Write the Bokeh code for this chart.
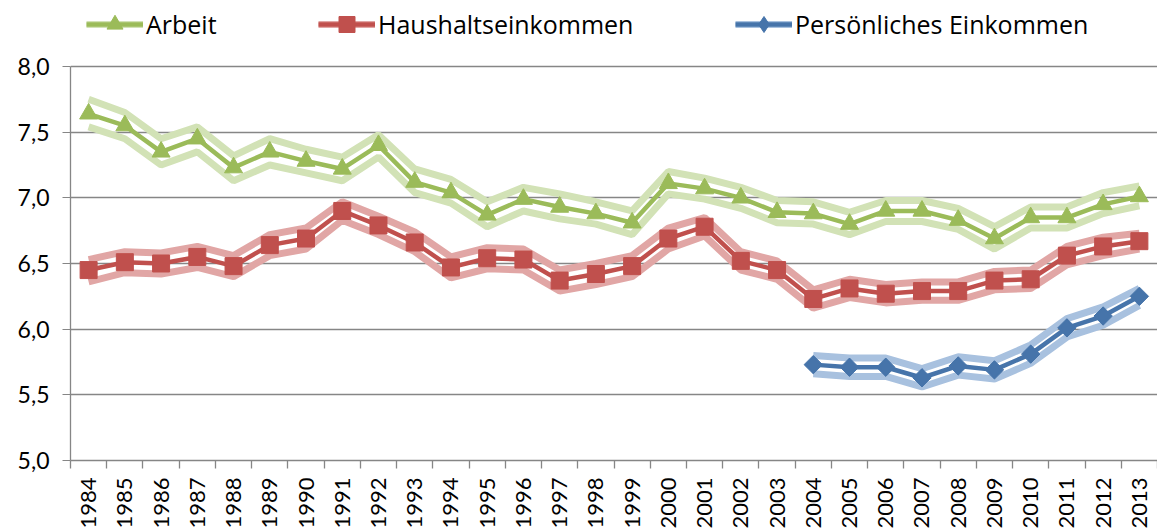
import math
from bokeh.plotting import figure
from bokeh.models import Range1d, FixedTicker, Legend, LegendItem, CustomJSTickFormatter
from bokeh.embed import file_html
from bokeh.resources import INLINE

years = list(range(1984, 2014))
arbeit = [7.64, 7.55, 7.35, 7.45, 7.23, 7.35, 7.28, 7.22, 7.40, 7.12, 7.04, 6.87, 6.99, 6.93, 6.88,
          6.81, 7.11, 7.07, 7.00, 6.89, 6.88, 6.80, 6.90, 6.90, 6.83, 6.69, 6.85, 6.85, 6.95, 7.01]
arbeit_hi = [7.75, 7.65, 7.45, 7.54, 7.32, 7.45, 7.37, 7.31, 7.48, 7.22, 7.14, 6.97, 7.08, 7.03, 6.97,
             6.90, 7.20, 7.15, 7.08, 6.98, 6.97, 6.89, 6.98, 6.98, 6.92, 6.78, 6.93, 6.93, 7.04, 7.09]
arbeit_lo = [7.54, 7.45, 7.25, 7.35, 7.13, 7.25, 7.19, 7.13, 7.31, 7.04, 6.96, 6.78, 6.90, 6.84, 6.80,
             6.72, 7.03, 6.99, 6.92, 6.81, 6.80, 6.72, 6.82, 6.82, 6.76, 6.61, 6.77, 6.77, 6.88, 6.94]

haushalt = [6.45, 6.51, 6.50, 6.55, 6.48, 6.64, 6.69, 6.90, 6.79, 6.66, 6.47, 6.54, 6.53, 6.37, 6.42,
            6.48, 6.69, 6.78, 6.52, 6.45, 6.23, 6.31, 6.27, 6.29, 6.29, 6.37, 6.38, 6.56, 6.63, 6.67]
haushalt_hi = [6.53, 6.59, 6.58, 6.63, 6.56, 6.72, 6.77, 6.97, 6.86, 6.74, 6.55, 6.62, 6.61, 6.45, 6.50,
               6.56, 6.77, 6.85, 6.59, 6.52, 6.30, 6.38, 6.34, 6.36, 6.36, 6.44, 6.45, 6.63, 6.70, 6.73]
haushalt_lo = [6.36, 6.43, 6.42, 6.47, 6.40, 6.56, 6.61, 6.83, 6.72, 6.59, 6.39, 6.46, 6.45, 6.29, 6.34,
               6.40, 6.61, 6.71, 6.45, 6.38, 6.16, 6.24, 6.20, 6.22, 6.22, 6.30, 6.31, 6.49, 6.56, 6.61]

pers_years = list(range(2004, 2014))
persoenlich = [5.73, 5.71, 5.71, 5.63, 5.72, 5.69, 5.81, 6.01, 6.10, 6.25]
persoenlich_hi = [5.80, 5.78, 5.78, 5.70, 5.79, 5.76, 5.88, 6.08, 6.17, 6.31]
persoenlich_lo = [5.66, 5.64, 5.64, 5.56, 5.65, 5.62, 5.74, 5.94, 6.03, 6.18]

y_ticks = [5.0, 5.5, 6.0, 6.5, 7.0, 7.5, 8.0]
labels = ["Arbeit", "Haushaltseinkommen", "Persönliches Einkommen"]

FONT = "Lato"
LEG_FONT = "Open Sans"
GRID = "#868686"

# frame runs to the top of the figure so the legend can sit above the 8,0 line
p = figure(width=1157, height=531, output_backend="svg", toolbar_location=None,
           x_range=Range1d(1983.5, 2013.5), y_range=Range1d(5.0, 8.5025),
           min_border_left=70, min_border_right=0, min_border_top=0, min_border_bottom=71)
p.outline_line_color = None
p.background_fill_color = "white"
p.border_fill_color = "white"
p.xgrid.visible = False
p.ygrid.ticker = FixedTicker(ticks=y_ticks)
p.ygrid.grid_line_color = GRID
p.ygrid.grid_line_width = 1.3

# y axis
p.yaxis.ticker = FixedTicker(ticks=y_ticks)
p.yaxis.bounds = (5.0, 8.0)
p.yaxis.formatter = CustomJSTickFormatter(code="return tick.toFixed(1).replace('.', ',');")
p.yaxis.axis_line_color = GRID
p.yaxis.axis_line_width = 1.3
p.yaxis.major_tick_line_color = GRID
p.yaxis.major_tick_out = 8
p.yaxis.major_tick_in = 0
p.yaxis.minor_tick_line_color = None
p.yaxis.major_label_standoff = 13
p.yaxis.major_label_text_font = FONT
p.yaxis.major_label_text_font_size = "23px"
p.yaxis.major_label_text_color = "black"

# x axis
p.xaxis.ticker = FixedTicker(ticks=years, minor_ticks=[y - 0.5 for y in years] + [years[-1] + 0.5])
p.xaxis.formatter = CustomJSTickFormatter(code="return String(Math.round(tick));")
p.xaxis.axis_line_color = GRID
p.xaxis.axis_line_width = 1.3
p.xaxis.major_tick_out = 0
p.xaxis.major_tick_in = 0
p.xaxis.minor_tick_out = 8
p.xaxis.minor_tick_in = 0
p.xaxis.minor_tick_line_color = GRID
p.xaxis.minor_tick_line_width = 1.3
p.xaxis.major_label_orientation = math.pi / 2
p.xaxis.major_label_standoff = 9
p.xaxis.major_label_text_font = FONT
p.xaxis.major_label_text_font_size = "22px"
p.xaxis.major_label_text_color = "black"

series = [
    (years, arbeit, arbeit_hi, arbeit_lo, "#9BBB59", "#D2E2B6", "triangle", 18, 0.0),
    (years, haushalt, haushalt_hi, haushalt_lo, "#C0504D", "#E1A6A5", "square", 17, 0.0),
    (pers_years, persoenlich, persoenlich_hi, persoenlich_lo, "#4674AA", "#A8C1DF", "square", 13, math.pi / 4),
]

band_r = []
for xs, ys, hi, lo, col, light, mk, sz, ang in series:
    r_hi = p.line(xs, hi, line_color=light, line_width=7)
    r_lo = p.line(xs, lo, line_color=light, line_width=7)
    band_r.append(r_hi)

main_r = []
for xs, ys, hi, lo, col, light, mk, sz, ang in series:
    r_l = p.line(xs, ys, line_color=col, line_width=4.5)
    main_r.append(r_l)

mark_r = []
for xs, ys, hi, lo, col, light, mk, sz, ang in series:
    r_m = p.scatter(xs, ys, marker=mk, size=sz, angle=ang, fill_color=col, line_color=col)
    mark_r.append(r_m)

# the legend does not rotate markers, so the diamond key uses a diamond renderer
# that sits hidden inside the rotated-square markers of the same series
legend_diamond = p.scatter(x=pers_years, y=persoenlich, marker="diamond", size=17,
                           fill_color="#4674AA", line_color="#4674AA")
legend_marks = [mark_r[0], mark_r[1], legend_diamond]

# location = bottom-left corner of each legend, in px from the frame's bottom-left
leg_x = [16, 248, 665]
for i, lab in enumerate(labels):
    leg = Legend(items=[LegendItem(label=lab, renderers=[band_r[i], main_r[i], legend_marks[i]])],
                 location=(leg_x[i], 416), orientation="horizontal",
                 glyph_width=57, glyph_height=40, label_standoff=3,
                 label_text_font=LEG_FONT, label_text_font_size="25px", label_text_color="black",
                 padding=0, margin=0, border_line_color=None, background_fill_alpha=0)
    p.add_layout(leg)

open("out.html", "w").write(file_html(p, INLINE))
